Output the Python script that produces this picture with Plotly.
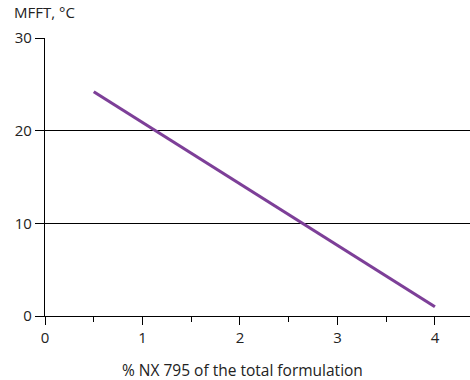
import plotly.graph_objects as go

x_vals = [0.5, 4.0]
mfft = [24.2, 1.0]
x_ticks = [0, 1, 2, 3, 4]
y_ticks = [0, 10, 20, 30]

fig = go.Figure()
fig.add_trace(go.Scatter(x=x_vals, y=mfft, mode="lines",
                         line=dict(color="#7D3F98", width=3.2), showlegend=False))

font = dict(family="Open Sans, Noto Sans, sans-serif", size=15, color="#222")
fig.update_layout(
    width=470, height=380,
    margin=dict(l=45, r=0, t=38, b=64),
    paper_bgcolor="white", plot_bgcolor="white",
    font=font,
    xaxis=dict(range=[0, 4.36], tickvals=x_ticks, ticks="outside", ticklen=8,
               tickcolor="black", tickwidth=1, showgrid=False, zeroline=False,
               showline=True, linecolor="black", linewidth=1.3, automargin=False,
               tickfont=font,
               minor=dict(tickvals=[0.5, 1.5, 2.5, 3.5], ticks="outside", ticklen=5,
                          tickcolor="black", tickwidth=1)),
    yaxis=dict(range=[0, 30], tickvals=y_ticks, ticks="outside", ticklen=9,
               tickcolor="black", tickwidth=1, showgrid=True, gridcolor="black",
               gridwidth=1, zeroline=False, showline=True, linecolor="black",
               linewidth=1.3, automargin=False, tickfont=font),
)
fig.add_annotation(text="MFFT, °C", xref="paper", yref="paper", x=-0.078, y=1.0,
                   xanchor="left", yanchor="bottom", yshift=14, showarrow=False, font=font)
fig.add_annotation(text="% NX 795 of the total formulation", xref="paper", yref="paper",
                   x=(242 - 45) / 425, y=-0.194, xanchor="center", yanchor="middle",
                   showarrow=False, font=dict(family=font["family"], size=15.5, color="#222"))
fig.write_html("out.html", config={"displayModeBar": False},
               post_script="document.body.style.margin='0';document.body.style.padding='0';")
